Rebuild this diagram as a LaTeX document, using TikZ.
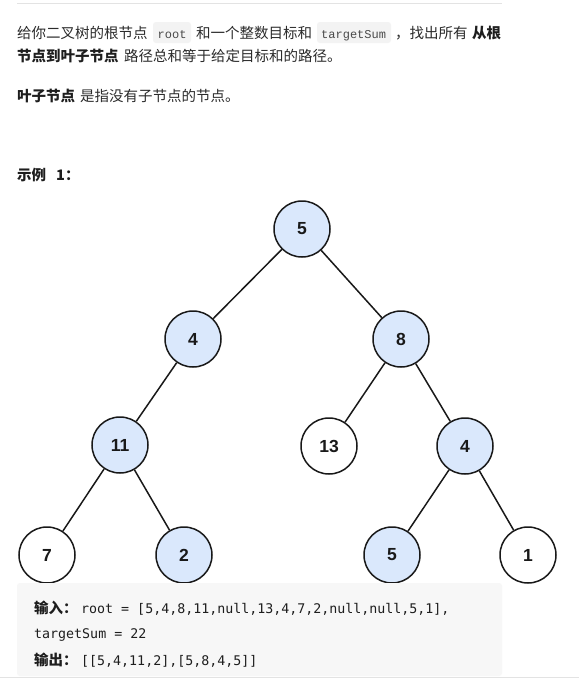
\documentclass[tikz,border=0pt]{standalone}
\usepackage{fontspec}
\setmainfont{Noto Sans CJK SC}
\newfontfamily\numfont{Liberation Sans}
\newfontfamily\codefont{Liberation Mono}
\newfontfamily\boxmono{DejaVu Sans Mono}
\definecolor{txt}{HTML}{2B2B2B}
\definecolor{boldtxt}{HTML}{1E1E1E}
\definecolor{codebg}{HTML}{F3F3F3}
\definecolor{codetxt}{HTML}{4A4A4A}
\definecolor{boxbg}{HTML}{F7F7F7}
\definecolor{rulec}{HTML}{E3E3E3}
\definecolor{hl}{HTML}{DAE8FC}
\tikzset{
  para/.style={anchor=base west, inner sep=0pt, text=txt, font=\fontsize{14.5}{17}\selectfont},
  parab/.style={para, text=boldtxt, font=\fontsize{14.5}{17}\selectfont\bfseries},
  code/.style={anchor=base west, inner sep=0pt, text=codetxt, font=\codefont\fontsize{12}{14}\selectfont},
  mono/.style={anchor=base west, inner sep=0pt, text=boldtxt, font=\boxmono\fontsize{13.3}{16}\selectfont},
  tn/.style={circle, draw=black!90, line width=1.5pt, minimum size=56pt, inner sep=0pt, fill=white,
    font=\numfont\bfseries\fontsize{17.5}{20}\selectfont, text=black!90},
  hn/.style={tn, fill=hl},
  edge/.style={draw=black!90, line width=1.5pt}
}
\begin{document}
\begin{tikzpicture}[x=1pt,y=-1pt]
\useasboundingbox[fill=white] (0,0) rectangle (579,683);
% top rule
\draw[rulec, line width=1pt] (17,3.5) -- (502,3.5);
% paragraph 1
\node[para] (p1a) at (17,38.5) {给你二叉树的根节点};
\fill[codebg, rounded corners=3pt] (153,22) rectangle (191,43);
\node[code] (c1) at (157.5,38) {root};
\node[para] (p1b) at (196,38.5) {和一个整数目标和};
\fill[codebg, rounded corners=3pt] (317,22) rectangle (391,43);
\node[code] (c2) at (321,38) {targetSum};
\node[para] (p1c) at (395,38.5) {，找出所有};
\node[parab] (p1d) at (472,38.5) {从根};
\node[parab] (p2a) at (17,61.5) {节点到叶子节点};
\node[para] (p2b) at (124,61.5) {路径总和等于给定目标和的路径。};
% paragraph 2
\node[parab] (p3a) at (17,101.5) {叶子节点};
\node[para] (p3b) at (80,101.5) {是指没有子节点的节点。};
% example title
\node[parab] (ex1) at (17,180.5) {示例};
\node[parab] (ex2) at (56,180.5) {1：};
% tree
\node[hn] (n5) at (302,229) {5};
\node[hn] (n4) at (193,339) {4};
\node[hn] (n8) at (401,339) {8};
\node[hn] (n11) at (120,445) {11};
\node[tn] (n13) at (329,446) {13};
\node[hn] (n4r) at (465,446) {4};
\node[tn] (n7) at (47,555) {7};
\node[hn] (n2) at (184,555) {2};
\node[hn] (n5b) at (392,555) {5};
\node[tn] (n1) at (528,555) {1};
\path[edge] (n5) -- (n4);
\path[edge] (n5) -- (n8);
\path[edge] (n4) -- (n11);
\path[edge] (n8) -- (n13);
\path[edge] (n8) -- (n4r);
\path[edge] (n11) -- (n7);
\path[edge] (n11) -- (n2);
\path[edge] (n4r) -- (n5b);
\path[edge] (n4r) -- (n1);
% example box
\fill[boxbg, rounded corners=3pt] (17,583) rectangle (502,676);
\draw[rulec, line width=1pt] (0,677) -- (579,677);
\node[parab] (in1) at (34,613) {输入：};
\node[mono] (in2) at (81,613) {root = [5,4,8,11,null,13,4,7,2,null,null,5,1],};
\node[mono] (in3) at (34,638) {targetSum = 22};
\node[parab] (out1) at (34,665) {输出：};
\node[mono] (out2) at (81,665) {[[5,4,11,2],[5,8,4,5]]};
\end{tikzpicture}
\end{document}
